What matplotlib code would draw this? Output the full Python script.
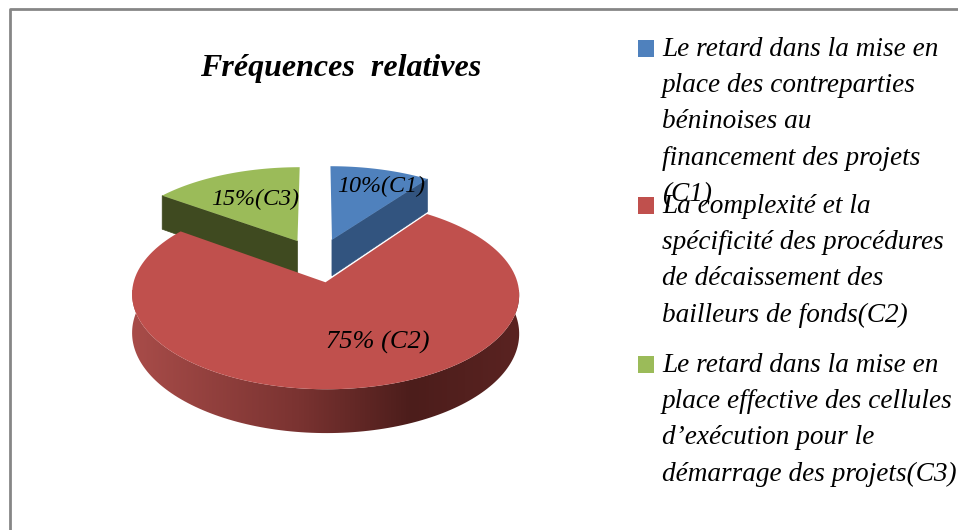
import numpy as np
import matplotlib
matplotlib.use('Agg')
import matplotlib.pyplot as plt
from matplotlib.colors import LinearSegmentedColormap
from matplotlib.patches import Polygon, Rectangle
from matplotlib.path import Path
from matplotlib.transforms import Affine2D, Transform

plt.rcParams['font.family'] = ['Liberation Serif', 'DejaVu Serif']

title = 'Fréquences  relatives'
values = [10, 75, 15]
explode = [0.25, 0.25, 0.25]
colors = ['#4f81bd', '#c0504d', '#9bbb59']
side_colors = ['#32547f', '#7a2f2d', '#3f4a20']
pie_labels = ['10%(C1)', '75% (C2)', '15%(C3)']
legend_entries = [
    ['Le retard dans la mise en', 'place des contreparties', 'béninoises au',
     'financement des projets', '(C1)'],
    ['La complexité et la', 'spécificité des procédures', 'de décaissement des',
     'bailleurs de fonds(C2)'],
    ['Le retard dans la mise en', 'place effective des cellules',
     'd’exécution pour le', 'démarrage des projets(C3)'],
]


class Tilt(Transform):
    # flat pie -> pixels, the far side shrinks a bit like the 3D view
    input_dims = 2
    output_dims = 2
    is_affine = False

    def __init__(self, drop=0.0):
        super().__init__()
        self.drop = drop

    def transform_non_affine(self, xy):
        xy = np.asarray(xy, dtype=float)
        w = 1 + 0.125 * xy[:, 1]
        return np.column_stack([318 + 186 * xy[:, 0] / w,
                                260 + (self.drop - 87.5 * xy[:, 1]) / w])

    def transform_path_non_affine(self, path):
        # scaled up first, otherwise the curves flatten into big steps
        big = path.transformed(Affine2D().scale(1000))
        polys = big.to_polygons(closed_only=False)
        return Path(self.transform_non_affine(polys[0] / 1000))


fig = plt.figure(figsize=(9.58, 5.30), dpi=100)
ax = fig.add_axes([0, 0, 1, 1])
wedges, _ = ax.pie(values, explode=explode, colors=colors, startangle=90,
                   counterclock=False, radius=1, wedgeprops={'linewidth': 0})

top = Tilt()
bottom = Tilt(37)


def arc(w, n=200):
    a = np.radians(np.linspace(w.theta1, w.theta2, n))
    return np.column_stack([w.center[0] + w.r * np.cos(a), w.center[1] + w.r * np.sin(a)])


def wall(pts):
    return np.vstack([top.transform_non_affine(pts), bottom.transform_non_affine(pts)[::-1]])


ax.set_xlim(0, 958)
ax.set_ylim(530, 0)
ax.set_aspect('auto')
ax.axis('off')

# cut faces of the two small slices, behind everything
for i, end in ((0, 0), (2, -1)):
    w = wedges[i]
    pts = np.array([w.center, arc(w)[end]])
    ax.add_patch(Polygon(wall(pts), closed=True, fc=side_colors[i], ec=side_colors[i],
                         lw=0.5, zorder=1))
    w.set_transform(top + ax.transData)
    w.set_zorder(2)

# red outer wall with the shading running left to right
red = wedges[1]
shade = LinearSegmentedColormap.from_list(
    'shade', [(0, '#a84c49'), (0.43, '#7a3331'), (0.72, '#4c1d1b'), (1, '#5a2321')])
wall_patch = Polygon(wall(arc(red)), closed=True, fc='none', ec='none', transform=ax.transData)
ax.add_patch(wall_patch)
img = ax.imshow(np.linspace(0, 1, 256)[None, :], cmap=shade, extent=(132, 520, 440, 290),
                aspect='auto', zorder=3)
img.set_clip_path(wall_patch)
red.set_transform(top + ax.transData)
red.set_zorder(4)

ax.set_xlim(0, 958)
ax.set_ylim(530, 0)

# frame, only top and left show
ax.plot([10.5, 10.5, 958], [530, 9, 9], color='#868686', lw=2, zorder=6, clip_on=False)

ax.text(341, 76, title, fontsize=23, fontweight='bold', style='italic', ha='center', va='baseline', zorder=7)

label_pos = [(381, 192), (378, 349), (255, 205)]
label_size = [17.3, 19, 17.3]
for txt, (x, y), size in zip(pie_labels, label_pos, label_size):
    ax.text(x, y, txt, fontsize=size, style='italic', ha='center', va='baseline', zorder=7)

starts = [56, 213, 372]
for block, y0, col in zip(legend_entries, starts, colors):
    ax.add_patch(Rectangle((638, y0 - 16), 16, 17, fc=col, ec='none', zorder=5))
    for j, line in enumerate(block):
        ax.text(662, y0 + j * 36.2, line, fontsize=19.6, style='italic', va='baseline', zorder=7)

fig.savefig('out.png', dpi=100)
